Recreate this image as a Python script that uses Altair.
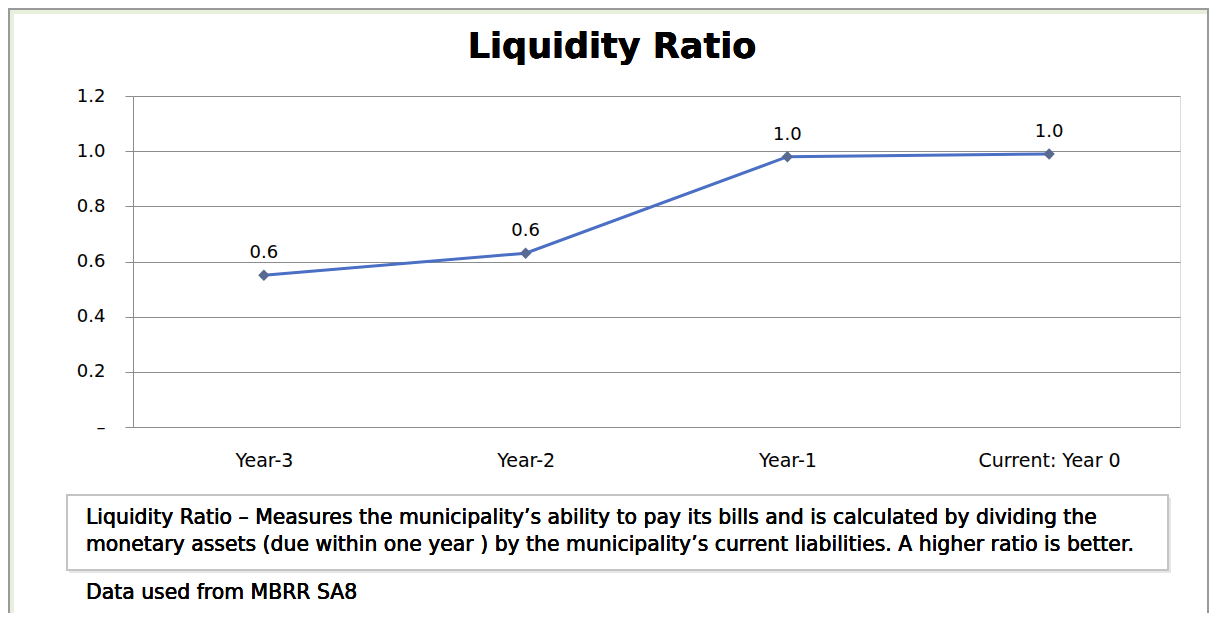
import altair as alt
import pandas as pd

categories = ["Year-3", "Year-2", "Year-1", "Current: Year 0"]
values = [0.55, 0.63, 0.98, 0.99]
y_ticks = [0, 0.2, 0.4, 0.6, 0.8, 1.0, 1.2]
title_text = "Liquidity Ratio"
note_line1 = "Liquidity Ratio \u2013 Measures the municipality\u2019s ability to pay its bills and is calculated by dividing the"
note_line2 = "monetary assets (due within one year ) by the municipality\u2019s current liabilities. A higher ratio is better."
source_text = "Data used from  MBRR SA8"

FONT = "DejaVu Sans"
W, H = 1047, 331

df = pd.DataFrame({"cat": categories, "val": values})

x_enc = alt.X("cat:N", sort=categories, title=None,
              scale=alt.Scale(paddingInner=0, paddingOuter=0),
              axis=alt.Axis(domain=False, ticks=False, labelAngle=0, labelPadding=24,
                            labelFontSize=19, labelColor="#000000", labelFont=FONT,
                            grid=False))
y_enc = alt.Y("val:Q", title=None,
              scale=alt.Scale(domain=[0, 1.2], nice=False),
              axis=alt.Axis(values=y_ticks, grid=True, gridColor="#8c8c8c", gridWidth=1,
                            domain=True, domainColor="#8c8c8c", tickColor="#8c8c8c",
                            tickSize=8, labelPadding=20, labelFontSize=18,
                            labelFont=FONT, labelColor="#000000",
                            labelExpr="datum.value == 0 ? '\u2013' : format(datum.value, '.1f')"))

base = alt.Chart(df)

green = base.mark_rect(fill=None, stroke="#e8efdc", strokeWidth=12).encode(
    x=alt.value(-125), x2=alt.value(1082), y=alt.value(-88), y2=alt.value(580))
frame = base.mark_rect(fill=None, stroke="#9a9a9a", strokeWidth=2).encode(
    x=alt.value(-124), x2=alt.value(1075), y=alt.value(-87), y2=alt.value(570))

title = base.mark_text(fontSize=35, font=FONT, fontWeight="bold", color="#000000",
                       baseline="alphabetic").encode(
    x=alt.value(479), y=alt.value(-38), text=alt.value(title_text))

line = base.mark_line(color="#4a6fc4", strokeWidth=3).encode(x=x_enc, y=y_enc)
points = base.mark_point(shape="diamond", filled=True, size=130, color="#586a92", opacity=1).encode(
    x=alt.X("cat:N", sort=categories), y="val:Q")
labels = base.mark_text(dy=-22, fontSize=18, font=FONT, color="#000000").encode(
    x=alt.X("cat:N", sort=categories), y="val:Q",
    text=alt.Text("val:Q", format=".1f"))

shadow = base.mark_rect(fill="#e6e6e6").encode(
    x=alt.value(-64), x2=alt.value(1038), y=alt.value(402), y2=alt.value(477))
box = base.mark_rect(fill="white", stroke="#c4c4c4", strokeWidth=2).encode(
    x=alt.value(-66), x2=alt.value(1035), y=alt.value(399), y2=alt.value(474))

t1 = base.mark_text(align="left", baseline="middle", fontSize=20.4, font=FONT, color="#000000").encode(
    x=alt.value(-47), y=alt.value(422), text=alt.value(note_line1))
t2 = base.mark_text(align="left", baseline="middle", fontSize=20.4, font=FONT, color="#000000").encode(
    x=alt.value(-47), y=alt.value(449), text=alt.value(note_line2))
t3 = base.mark_text(align="left", baseline="middle", fontSize=20.4, font=FONT, color="#000000").encode(
    x=alt.value(-47), y=alt.value(497), text=alt.value(source_text))

chart = alt.layer(green, frame, title, shadow, box, t1, t2, t3, line, points, labels).properties(
    width=W, height=H,
    padding={"left": 125, "top": 88, "right": 29, "bottom": 186},
    autosize=alt.AutoSizeParams(type="none"),
).configure_view(stroke=None).configure(background="white")

chart.save("out.html", embed_options={"renderer": "svg", "actions": False})
